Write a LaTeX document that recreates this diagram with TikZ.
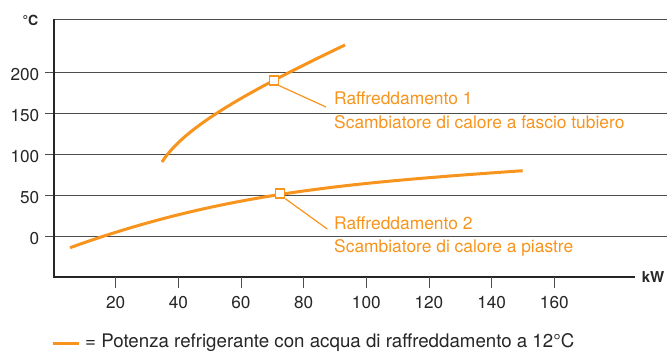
\documentclass[tikz,border=0pt]{standalone}
\usepackage{fontspec}
\setmainfont{TeX Gyre Heros}
\definecolor{org}{HTML}{F7941D}
\definecolor{gridc}{HTML}{4D4D4D}
\definecolor{txt}{HTML}{262626}
\tikzset{
  gridline/.style={draw=gridc, line width=0.9bp},
  axisline/.style={draw=txt, line width=1.5bp},
  curve/.style={draw=org, line width=3bp},
  marker/.style={draw=org, fill=white, line width=1.3bp, minimum size=9bp, inner sep=0, rectangle},
  leader/.style={draw=org, line width=1.2bp},
  lab/.style={font=\fontsize{17.2bp}{20bp}\selectfont, inner sep=0, text=txt},
  olab/.style={font=\fontsize{17.4bp}{20bp}\selectfont, inner sep=0, text=org},
  unit/.style={font=\bfseries\fontsize{15bp}{18bp}\selectfont, inner sep=0, text=txt},
}
\begin{document}
\begin{tikzpicture}[x=1bp,y=-1bp]
\useasboundingbox (0,0) rectangle (668,351);
% grid lines and y labels
\draw[gridline] (54,19) -- (667,19);
\foreach \v/\yy in {200/72.3,150/113.3,100/154.3,50/195.3,0/236}{
  \draw[gridline] (45,\yy) -- (667,\yy);
  \node[lab, anchor=base east] (y\v) at (39.5,\yy+8) {\v};
}
% axes
\draw[axisline] (54,19) -- (54,277) -- (635,277);
\foreach \v in {20,40,...,160}{
  \pgfmathsetmacro\xx{53+3.133*\v}
  \draw[gridline] (\xx,277) -- (\xx,288);
  \node[lab, anchor=base] (x\v) at (\xx,308.3) {\v};
}
\node[unit, font=\bfseries\fontsize{14bp}{16bp}\selectfont, anchor=base east] (unitC) at (38.5,25) {°C};
\node[unit, anchor=base west] (unitkW) at (641.7,282.7) {kW};
% curves
\coordinate (c1s) at (162,162);
\coordinate (c1e) at (345,45);
\coordinate (c2s) at (70,247.7);
\coordinate (c2e) at (522.7,170.7);
\draw[curve] (c1s) .. controls (183,129) and (240,95) .. (c1e);
\draw[curve] (c2s) .. controls (220,193.7) and (342.7,183.3) .. (c2e);
% markers and leaders
\node[marker] (m1) at (274,80.5) {};
\node[marker] (m2) at (280.2,193.6) {};
\coordinate (e1) at (326,107);
\coordinate (e2) at (327.3,229);
\draw[leader] (m1.south east) -- (e1);
\draw[leader] (m2.south east) -- (e2);
% labels
\node[olab, anchor=base west] (r1) at (334,104) {Raffreddamento 1};
\node[olab, anchor=base west] (s1) at (334,128.2) {Scambiatore di calore a fascio tubiero};
\node[olab, anchor=base west] (r2) at (334,229) {Raffreddamento 2};
\node[olab, anchor=base west] (s2) at (334,252.7) {Scambiatore di calore a piastre};
% legend
\coordinate (l1) at (53.3,343.3);
\coordinate (l2) at (79.3,343.3);
\draw[curve] (l1) -- (l2);
\node[lab, font=\fontsize{18.7bp}{20bp}\selectfont, anchor=base west] (leg) at (85,347.6) {= Potenza refrigerante con acqua di raffreddamento a 12°C};
\end{tikzpicture}
\end{document}
